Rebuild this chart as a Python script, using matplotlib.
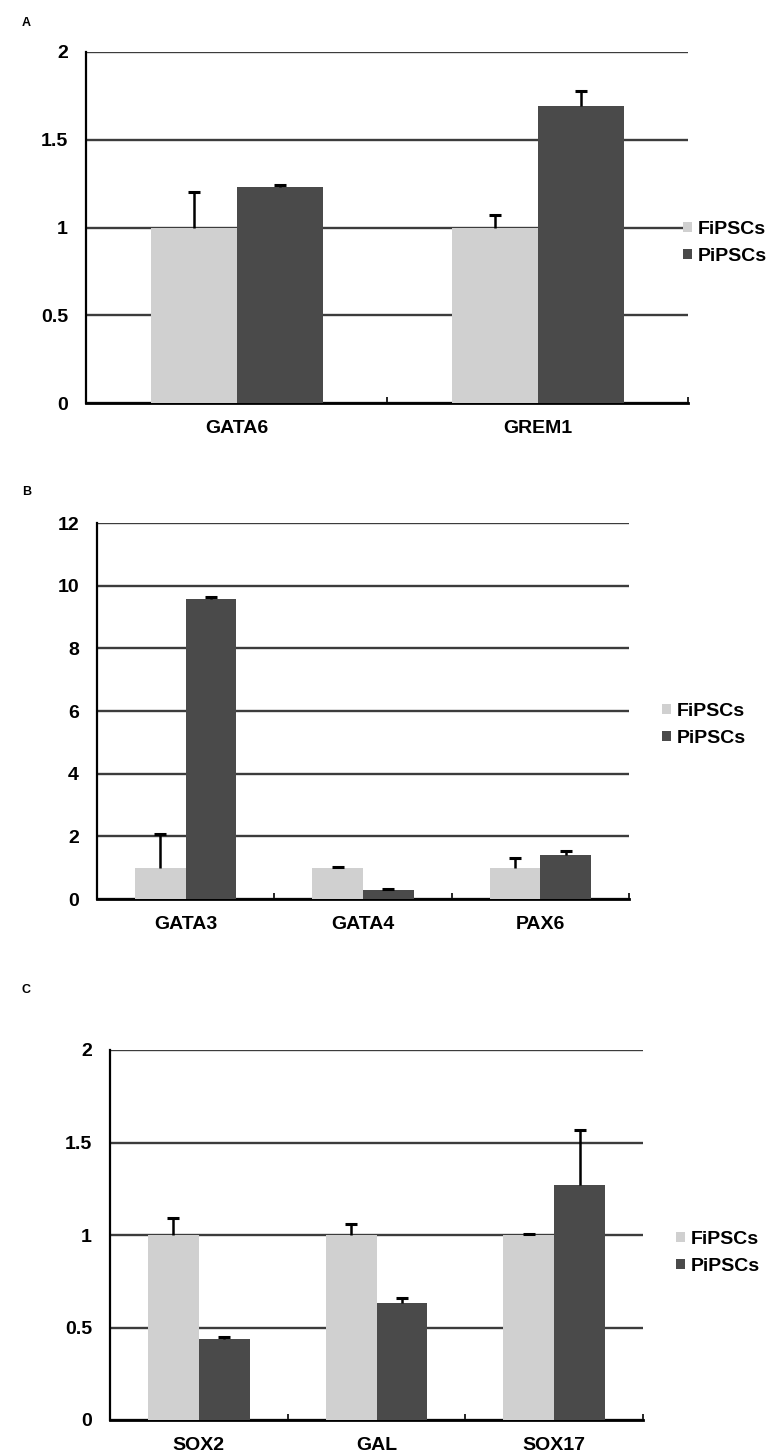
import numpy as np
from matplotlib import pyplot as plt

plt.rcParams['font.family'] = ['Liberation Sans', 'DejaVu Sans']

# panel A
genes_a = ['GATA6', 'GREM1']
fi_a = [1.0, 1.0]
fi_err_a = [0.20, 0.07]
pi_a = [1.23, 1.69]
pi_err_a = [0.01, 0.09]

# panel B
genes_b = ['GATA3', 'GATA4', 'PAX6']
fi_b = [1.0, 1.0, 1.0]
fi_err_b = [1.09, 0.02, 0.30]
pi_b = [9.57, 0.28, 1.41]
pi_err_b = [0.07, 0.04, 0.11]

# panel C
genes_c = ['SOX2', 'GAL', 'SOX17']
fi_c = [1.0, 1.0, 1.0]
fi_err_c = [0.09, 0.06, 0.005]
pi_c = [0.44, 0.63, 1.27]
pi_err_c = [0.01, 0.03, 0.30]

series_names = ['FiPSCs', 'PiPSCs']
fi_color = '#d0d0d0'
pi_color = '#4a4a4a'
grid_color = '#3c3c3c'

W, H = 767, 1455


def up_errors(ax, xs, ys, errs):
    tops = np.array(ys) + np.array(errs)
    ax.vlines(xs, ys, tops, color='black', linewidth=1.8, zorder=4)
    ax.plot(xs, tops, linestyle='none', marker='_', markersize=8, markeredgewidth=2.2,
            color='black', zorder=4)


def draw_panel(fig, box, letter, letter_y, genes, fi, fi_err, pi, pi_err,
               ymax, ystep, yfmt, legend_xy):
    left, right, top, bottom = box
    ax = fig.add_axes([left / W, 1 - bottom / H, (right - left) / W, (bottom - top) / H])
    n = len(genes)
    x = np.arange(n)
    width = 1 / 3.5
    ax.bar(x - width / 2, fi, width=width, color=fi_color, label=series_names[0], zorder=3)
    ax.bar(x + width / 2, pi, width=width, color=pi_color, label=series_names[1], zorder=3)
    up_errors(ax, x - width / 2, fi, fi_err)
    up_errors(ax, x + width / 2, pi, pi_err)

    ax.set_xlim(-0.5, n - 0.5)
    ax.set_ylim(0, ymax)
    yt = np.arange(0, ymax + ystep / 2, ystep)
    ax.set_yticks(yt)
    ax.set_yticklabels([yfmt(v) for v in yt])
    ax.yaxis.grid(True, color=grid_color, linewidth=1.7, zorder=0)
    ax.set_axisbelow(True)

    ax.set_xticks(x)
    ax.set_xticklabels(genes)
    ax.set_xticks(np.arange(0.5, n, 1.0), minor=True)
    ax.tick_params(axis='x', which='major', length=0, pad=12, labelsize=14)
    ax.tick_params(axis='x', which='minor', length=4, direction='in', width=1.2)
    ax.tick_params(axis='y', length=0, pad=13, labelsize=14)
    for lab in ax.get_xticklabels() + ax.get_yticklabels():
        lab.set_fontweight('bold')

    for s in ['top', 'right']:
        ax.spines[s].set_visible(False)
    ax.spines['left'].set_linewidth(1.6)
    ax.spines['bottom'].set_linewidth(2)

    leg = ax.legend(loc='center left', bbox_to_anchor=(legend_xy[0] / W, 1 - legend_xy[1] / H),
                    bbox_transform=fig.transFigure, frameon=False,
                    prop={'size': 14, 'weight': 'bold'}, borderaxespad=0, borderpad=0,
                    handlelength=0.45, handleheight=0.45, handletextpad=0.3, labelspacing=0.5)
    fig.text(22 / W, 1 - letter_y / H, letter, fontsize=9, fontweight='bold',
             ha='left', va='center')
    return ax


fig = plt.figure(figsize=(W / 100, H / 100), dpi=100)

draw_panel(fig, (86, 688, 52, 403), 'A', 23, genes_a, fi_a, fi_err_a, pi_a, pi_err_a,
           2, 0.5, lambda v: '%g' % v, (683, 243))
draw_panel(fig, (97, 629, 523, 899), 'B', 492, genes_b, fi_b, fi_err_b, pi_b, pi_err_b,
           12, 2, lambda v: '%d' % v, (662, 725))
draw_panel(fig, (110, 643, 1050, 1420), 'C', 990, genes_c, fi_c, fi_err_c, pi_c, pi_err_c,
           2, 0.5, lambda v: '%g' % v, (676, 1253))

fig.savefig('out.png', dpi=100)
